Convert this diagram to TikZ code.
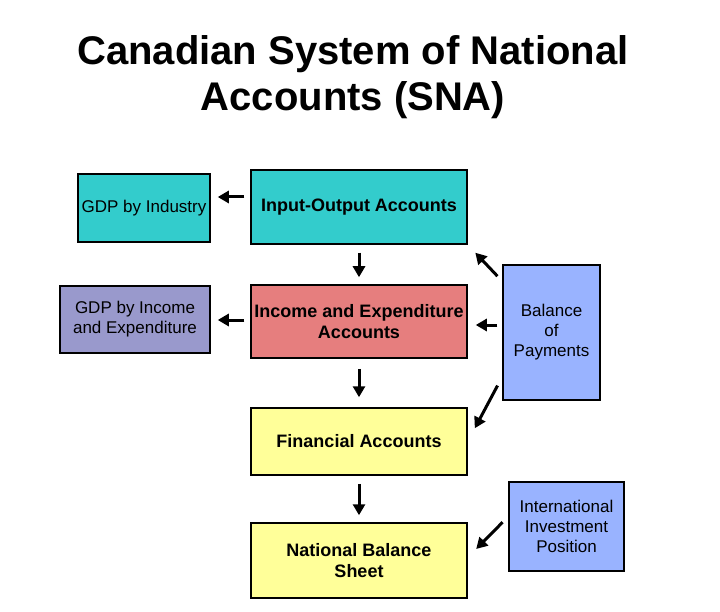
\documentclass[tikz,border=0pt]{standalone}
\usepackage{fontspec}
\setmainfont{Liberation Sans}
\usetikzlibrary{arrows.meta}
\definecolor{tealbox}{RGB}{51,204,204}
\definecolor{redbox}{RGB}{230,126,126}
\definecolor{purplebox}{RGB}{153,153,204}
\definecolor{bluebox}{RGB}{153,179,255}
\definecolor{yellowbox}{RGB}{255,255,153}
\tikzset{
  box/.style={draw, line width=1.5pt, align=center, inner sep=0pt,
    font=\fontsize{17}{20}\selectfont},
  accbox/.style={box, minimum width=216pt, font=\fontsize{18}{21}\selectfont\bfseries},
  arr/.style={line width=3pt, -{Triangle[length=11pt,width=12pt]}}
}
\begin{document}
\begin{tikzpicture}[x=1pt,y=-1pt]
\useasboundingbox[fill=white] (0,0) rectangle (720,612);
\node[font=\fontsize{40}{46}\selectfont\bfseries, align=center] (title) at (353,77) {Canadian System of National\\Accounts (SNA)};
\node[box, fill=tealbox, minimum width=132pt, minimum height=68pt] (gdpind) at (144,208) {GDP by Industry};
\node[box, fill=purplebox, minimum width=150pt, minimum height=67pt] (gdpinc) at (135,319.5) {GDP by Income\\and Expenditure};
\node[accbox, fill=tealbox, minimum height=74pt] (io) at (359,207) {Input-Output Accounts};
\node[accbox, fill=redbox, minimum height=73pt] (ie) at (359,321.5) {Income and Expenditure\\Accounts};
\node[accbox, fill=yellowbox, minimum height=67pt] (fin) at (359,441.5) {Financial Accounts};
\node[accbox, fill=yellowbox, minimum height=75pt] (nbs) at (359,560.5) {National Balance\\Sheet};
\node[box, fill=bluebox, minimum width=97pt, minimum height=135pt] (bop) at (551.5,332.5) {Balance\\of\\Payments};
\node[box, fill=bluebox, minimum width=115pt, minimum height=89pt] (iip) at (566.5,526.5) {International\\Investment\\Position};
\draw[arr, shorten <=6pt, shorten >=7pt] ([yshift=10pt]io.west) -- ([yshift=11pt]gdpind.east);
\draw[arr, shorten <=6pt, shorten >=7pt] ([yshift=1.5pt]ie.west) -- ([yshift=-0.5pt]gdpinc.east);
\draw[arr, shorten <=8pt, shorten >=7pt] (io.south) -- (ie.north);
\draw[arr, shorten <=10pt, shorten >=10pt] (ie.south) -- (fin.north);
\draw[arr, shorten <=8pt, shorten >=7pt] (fin.south) -- (nbs.north);
\draw[arr, shorten <=7pt, shorten >=11pt] ([yshift=-17pt]bop.north west) -- (io.south east);
\draw[arr, shorten <=5pt, shorten >=8pt] ([yshift=7.5pt]bop.west) -- ([yshift=-3.5pt]ie.east);
\draw[arr, shorten <=10pt, shorten >=15pt] ([yshift=24pt]bop.south west) -- (fin.east);
\draw[arr, shorten <=8pt, shorten >=12pt] ([yshift=10pt]iip.west) -- ([yshift=3pt]nbs.east);
\end{tikzpicture}
\end{document}
